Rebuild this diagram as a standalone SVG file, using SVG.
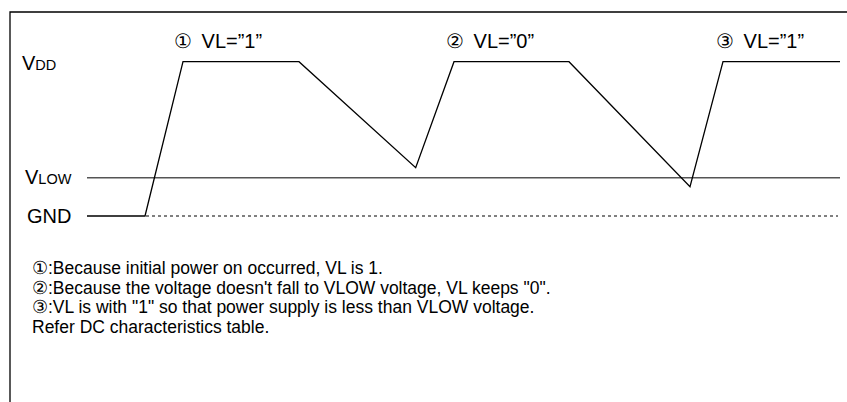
<svg xmlns="http://www.w3.org/2000/svg" width="847" height="402" viewBox="0 0 847 402">
<style>
text{font-family:"Liberation Sans",Arial,sans-serif;fill:#000}
.lbl{font-size:20px}
.sm{font-size:14.5px}
.note{font-size:17.5px}
.wave{fill:none;stroke:#000;stroke-width:1.3}
</style>
<rect x="0" y="0" width="847" height="402" fill="#fff"/>
<g id="frame"><path d="M10 402 V12 H847" fill="none" stroke="#000" stroke-width="1.3"/></g>
<g id="connectors">
<line x1="87" y1="177.7" x2="840" y2="177.7" stroke="#555" stroke-width="1.5"/>
<line x1="146" y1="216" x2="838" y2="216" stroke="#000" stroke-width="1" stroke-dasharray="3,3"/>
<polyline class="wave" points="87,216 145,216 183,61.7 299,61.7 415.7,167.7 454,61.7 569,61.7 690,186.7 723,61.7 840,61.7"/>
</g>
<g id="vdd"><text class="lbl" x="22" y="70">V<tspan class="sm">DD</tspan></text></g>
<g id="vlow"><text class="lbl" x="25" y="184">V<tspan class="sm">LOW</tspan></text></g>
<g id="gnd"><text class="lbl" x="27" y="223">GND</text></g>
<g id="l1"><text class="lbl" x="174" y="48">① <tspan dx="4">VL=”1”</tspan></text></g>
<g id="l2"><text class="lbl" x="446" y="48">② <tspan dx="4">VL=”0”</tspan></text></g>
<g id="l3"><text class="lbl" x="716" y="48">③ <tspan dx="4">VL=”1”</tspan></text></g>
<g id="notes">
<text class="note" x="32" y="274">①:Because initial power on occurred, VL is 1.</text>
<text class="note" x="32" y="293.5">②:Because the voltage doesn't fall to VLOW voltage, VL keeps "0".</text>
<text class="note" x="32" y="313">③:VL is with "1" so that power supply is less than VLOW voltage.</text>
<text class="note" x="32" y="332.5">Refer DC characteristics table.</text>
</g>
</svg>
